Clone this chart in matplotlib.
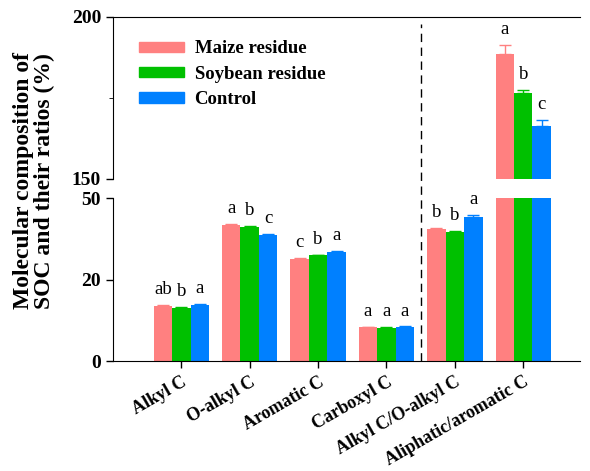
import matplotlib.pyplot as plt
import numpy as np
from matplotlib.patches import Patch

plt.rcParams['font.family'] = ['Liberation Serif', 'DejaVu Serif']

categories = ['Alkyl C', 'O-alkyl C', 'Aromatic C', 'Carboxyl C',
              'Alkyl C/O-alkyl C', 'Aliphatic/aromatic C']
series = ['Maize residue', 'Soybean residue', 'Control']
colors = ['#FF8080', '#00C000', '#0080FF']

maize = [16.8, 41.8, 31.2, 10.3, 40.4, 188.5]
soybean = [16.3, 41.0, 32.4, 10.2, 39.7, 176.6]
control = [17.2, 38.7, 33.6, 10.4, 44.2, 166.5]

maize_err = [0.3, 0.3, 0.3, 0.2, 0.4, 2.8]
soybean_err = [0.2, 0.3, 0.2, 0.2, 0.3, 1.0]
control_err = [0.3, 0.3, 0.3, 0.2, 0.6, 1.7]

maize_sig = ['ab', 'a', 'c', 'a', 'b', 'a']
soybean_sig = ['b', 'b', 'b', 'a', 'b', 'b']
control_sig = ['a', 'c', 'a', 'a', 'a', 'c']

values = [maize, soybean, control]
errors = [maize_err, soybean_err, control_err]
sigs = [maize_sig, soybean_sig, control_sig]

fig = plt.figure(figsize=(5.9, 4.71), dpi=100)
ax_hi = fig.add_axes([0.1915, 0.620, 0.7915, 0.344])
ax_lo = fig.add_axes([0.1915, 0.2335, 0.7915, 0.346])

x = np.arange(len(categories))
w = 0.27

for ax, (lo, hi) in [(ax_lo, (0, 50)), (ax_hi, (150, 200))]:
    for i in range(3):
        xs = x + (i - 1) * w
        ax.bar(xs, values[i], w, color=colors[i], bottom=0, zorder=2)
        ax.errorbar(xs, values[i], yerr=[np.zeros(len(x)), errors[i]],
                    fmt='none', ecolor=colors[i], elinewidth=1, capsize=4,
                    capthick=1, zorder=3)
        for xi, v, e, s in zip(xs, values[i], errors[i], sigs[i]):
            if lo <= v + e <= hi:
                ax.annotate(s, (xi, v + e), xytext=(0, 5),
                            textcoords='offset points', ha='center',
                            va='bottom', fontsize=13.5)
    ax.set_ylim(lo, hi)
    ax.set_xlim(-1.0, 5.83)
    ax.spines['right'].set_visible(False)
    ax.tick_params(axis='y', direction='out', length=5, width=1)

ax_hi.spines['bottom'].set_visible(False)
ax_hi.set_xticks([])
ax_hi.set_yticks([150, 200])
ax_hi.set_yticks([175], minor=True)
ax_hi.tick_params(axis='y', which='minor', length=3)
ax_hi.set_yticklabels(['150', '200'], fontweight='bold', fontsize=14)

ax_lo.spines['top'].set_visible(False)
ax_lo.set_yticks([0, 25, 50])
ax_lo.set_yticklabels(['0', '20', '50'], fontweight='bold', fontsize=14)
ax_lo.set_xticks(x)
ax_lo.set_xticklabels(categories, rotation=30, ha='right',
                      rotation_mode='anchor', fontweight='bold', fontsize=13)
ax_lo.tick_params(axis='x', direction='out', length=5, width=1, pad=4)

ax_lo.axvline(3.5, 0, 2.07, color='black', lw=1, ls=(0, (6, 4)),
              clip_on=False, zorder=1)

handles = [Patch(color=c) for c in colors]
ax_hi.legend(handles, series, loc='upper left', bbox_to_anchor=(0.02, 0.96),
             frameon=False, prop={'weight': 'bold', 'size': 13.5},
             handlelength=2.4, handleheight=0.45, handletextpad=0.55,
             labelspacing=0.45)

fig.text(0.058, 0.616, 'Molecular composition of\nSOC and their ratios (%)',
         rotation=90, ha='center', va='center', fontsize=17,
         fontweight='bold', linespacing=1.0)

fig.savefig('out.png', dpi=100)
